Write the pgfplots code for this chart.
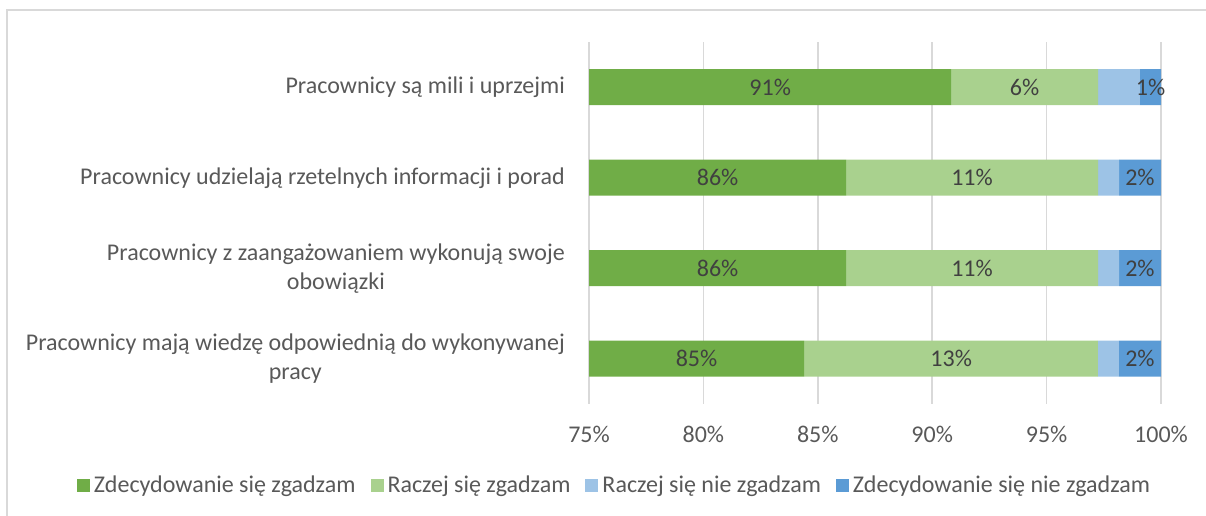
\documentclass[border=0pt]{standalone}
\usepackage{pgfplots}
\pgfplotsset{compat=1.18}
\usepackage{fontspec}
\setmainfont{Carlito}
\definecolor{cA}{HTML}{70AD47}
\definecolor{cB}{HTML}{A9D18E}
\definecolor{cC}{HTML}{9DC3E6}
\definecolor{cD}{HTML}{5B9BD5}
\definecolor{gridc}{HTML}{D9D9D9}
\definecolor{txt}{HTML}{595959}
\definecolor{dtxt}{HTML}{404040}
\newcommand{\ff}{\fontsize{24}{29}\selectfont}
\begin{document}
\begin{tikzpicture}[x=1pt,y=1pt]
\useasboundingbox (0,0) rectangle (1206,516);
\draw[gridc,line width=2pt] (6.5,0) -- (6.5,505.5) -- (1206,505.5);
\begin{axis}[
  at={(589pt,112pt)}, anchor=south west, scale only axis,
  width=572pt, height=362pt,
  xbar stacked, bar width=36pt,
  xmin=75, xmax=100, ymin=-0.5, ymax=3.5,
  xtick={75,80,85,90,95,100},
  xticklabels={75\%,80\%,85\%,90\%,95\%,100\%},
  ytick={0,1,2,3},
  yticklabels={{Pracownicy mają wiedzę odpowiednią do wykonywanej\\pracy},
               {Pracownicy z zaangażowaniem wykonują swoje\\obowiązki},
               {Pracownicy udzielają rzetelnych informacji i porad},
               {Pracownicy są mili i uprzejmi}},
  yticklabel style={align=center, font=\ff, text=txt, inner sep=0pt, xshift=-24pt},
  xticklabel style={font=\ff, text=txt, anchor=base, yshift=-38pt},
  axis line style={draw=none},
  major tick length=0pt,
  xmajorgrids, grid style={gridc, line width=1.5pt},
  legend style={at={(0.0463,-0.2238)}, anchor=center, legend columns=4, draw=none,
    font=\ff, text=txt, column sep=0pt,
    /tikz/every even column/.append style={column sep=11pt},
    nodes={inner sep=4pt}},
  legend image code/.code={\fill[#1] (0pt,-6.5pt) rectangle (13pt,6.5pt);},
]
\addplot[fill=cA, draw=none] coordinates {(84.40,0) (86.24,1) (86.24,2) (90.83,3)};
\addplot[fill=cB, draw=none] coordinates {(12.84,0) (11.01,1) (11.01,2) (6.42,3)};
\addplot[fill=cC, draw=none] coordinates {(0.92,0) (0.92,1) (0.92,2) (1.83,3)};
\addplot[fill=cD, draw=none] coordinates {(1.84,0) (1.84,1) (1.84,2) (0.92,3)};
\legend{Zdecydowanie się zgadzam, Raczej się zgadzam, Raczej się nie zgadzam, Zdecydowanie się nie zgadzam}
\end{axis}
\begin{axis}[
  at={(589pt,112pt)}, anchor=south west, scale only axis,
  width=572pt, height=362pt,
  xmin=75, xmax=100, ymin=-0.5, ymax=3.5, hide axis, clip=false,
]
\addplot[only marks, mark=none, nodes near coords, point meta=explicit symbolic,
  every node near coord/.append style={anchor=center, font=\ff, text=dtxt, inner sep=0pt}]
  coordinates {
  (82.92,3) [91\%] (94.04,3) [6\%] (99.54,3) [1\%]
  (80.62,2) [86\%] (91.74,2) [11\%] (99.08,2) [2\%]
  (80.62,1) [86\%] (91.74,1) [11\%] (99.08,1) [2\%]
  (79.70,0) [85\%] (90.83,0) [13\%] (99.08,0) [2\%]
  };
\end{axis}
\end{tikzpicture}
\end{document}
